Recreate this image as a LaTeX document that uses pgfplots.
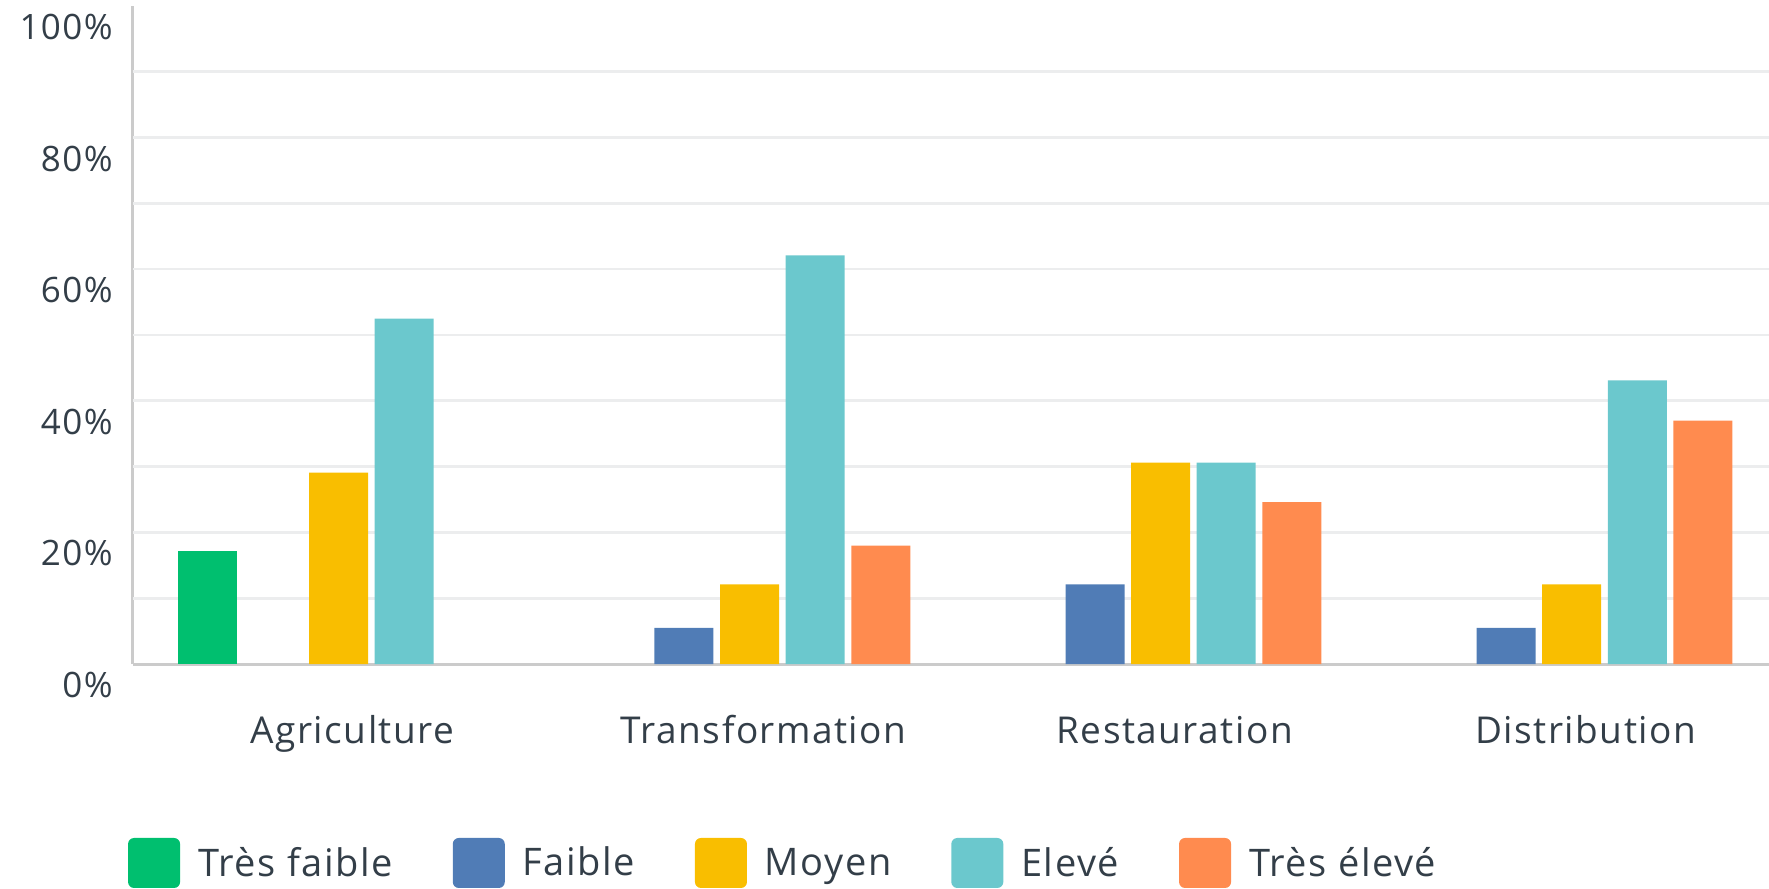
\documentclass[border=0pt]{standalone}
\usepackage{fontspec}
\setmainfont[LetterSpace=4]{Open Sans}
\usepackage{pgfplots}
\pgfplotsset{compat=1.18}
\definecolor{tresfaible}{HTML}{00BF6F}
\definecolor{faible}{HTML}{507CB6}
\definecolor{moyen}{HTML}{F9BE00}
\definecolor{eleve}{HTML}{6BC8CD}
\definecolor{treseleve}{HTML}{FF8B4F}
\definecolor{txt}{HTML}{333E48}
\definecolor{gridc}{HTML}{ECEDEE}
\definecolor{axc}{HTML}{CBCBCB}

\pgfplotsset{
  barcol/.style={fill=#1, draw=none,
    legend image code/.code={\fill[fill=#1, rounded corners=3pt] (0pt,-12.5pt) rectangle (26pt,12.5pt);}},
}

\begin{document}
\begin{tikzpicture}
\useasboundingbox (-66.5pt,-112.5pt) rectangle (818pt,332pt);
\begin{axis}[
    at={(0pt,0pt)}, anchor=south west,
    scale only axis, width=818pt, height=329pt,
    ybar=3.3pt, bar width=29.5pt,
    xmin=-0.5, xmax=3.48, ymin=0, ymax=100,
    axis x line=bottom, axis y line=left,
    axis line style={axc, line width=1.5pt, -},
    xtick={0,1,2,3},
    xticklabels={Agriculture,Transformation,Restauration,Distribution},
    ytick={0,20,...,100},
    yticklabels={0\%,20\%,40\%,60\%,80\%,100\%},
    major tick length=0pt,
    extra y ticks={10,20,...,90}, extra y tick labels={},
    extra y tick style={grid=major, major grid style={gridc, line width=1.3pt}},
    xticklabel style={anchor=base, yshift=-39.5pt, xshift=7pt,
        font=\fontsize{18.5}{22}\selectfont, text=txt},
    yticklabel style={anchor=east, inner sep=0pt, xshift=-10pt, yshift=-10.5pt,
        font=\fontsize{17.5}{21}\selectfont, text=txt},
    legend columns=5,
    legend style={at={(-0.003,-0.3024)}, anchor=west, draw=none, fill=none,
        inner sep=0pt, outer sep=0pt, font=\fontsize{19}{22}\selectfont, text=txt,
        nodes={inner sep=0pt},
        /tikz/every odd column/.append style={column sep=9pt},
        /tikz/every even column/.append style={column sep=30pt}},
]

\addplot[barcol=tresfaible] coordinates {(0,17.1)};
\addlegendentry{Très faible}

\addplot[barcol=faible] coordinates {(1,5.5) (2,12.1) (3,5.5)};
\addlegendentry{Faible}

\addplot[barcol=moyen] coordinates {(0,29.1) (1,12.1) (2,30.6) (3,12.1)};
\addlegendentry{Moyen}

\addplot[barcol=eleve] coordinates {(0,52.5) (1,62.1) (2,30.6) (3,43.1)};
\addlegendentry{Elevé}

\addplot[barcol=treseleve] coordinates {(1,18.0) (2,24.6) (3,37.0)};
\addlegendentry{Très élevé}

\end{axis}
\end{tikzpicture}
\end{document}
